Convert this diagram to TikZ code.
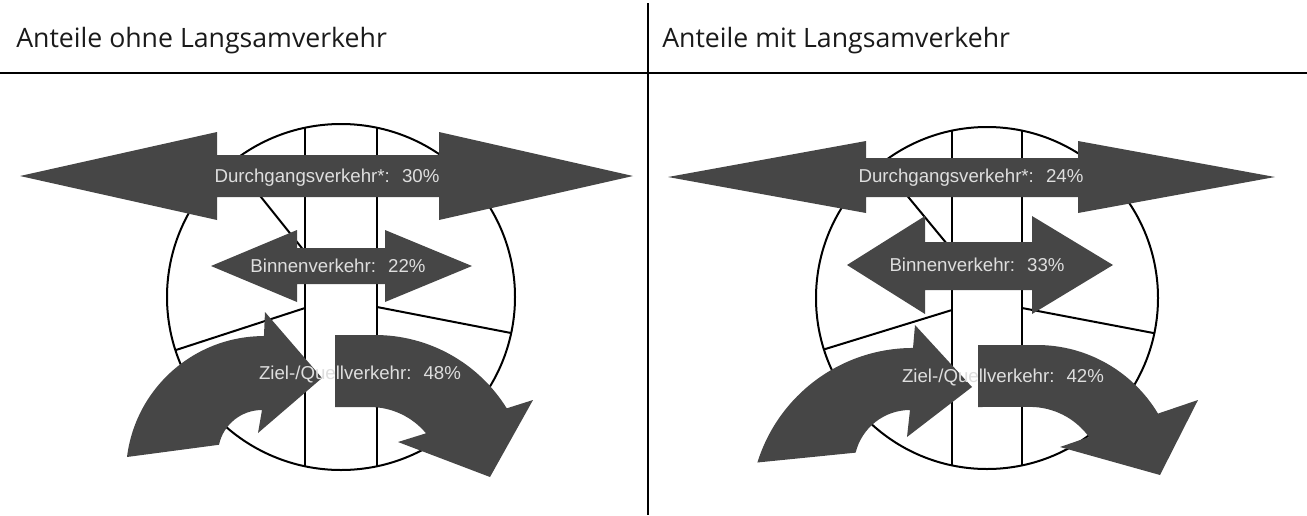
\documentclass[tikz,border=0pt]{standalone}
\usepackage{fontspec}
\setmainfont{Open Sans}
\newfontfamily\arialfont{Liberation Sans}
\definecolor{arrowgray}{RGB}{70,70,70}
\definecolor{labelgray}{RGB}{222,222,222}
\definecolor{headblack}{RGB}{26,26,26}
\tikzset{
  flow/.style={fill=arrowgray, draw=none},
  partline/.style={line width=1.5pt, black},
  lbl/.style={font=\arialfont\fontsize{14}{16}\selectfont, text=labelgray, inner sep=0pt},
  headtxt/.style={font=\fontsize{20}{24}\selectfont, text=headblack, inner sep=0pt, anchor=base west},
  rulerline/.style={line width=2pt, black}
}
\begin{document}
\begin{tikzpicture}[x=0.75pt,y=-0.75pt]
\useasboundingbox (0,0) rectangle (1307,515);
% frame
\coordinate (hl) at (0,73);
\coordinate (hr) at (1307,73);
\coordinate (vt) at (648,3);
\coordinate (vb) at (648,515);
\draw[rulerline] (hl) -- (hr);
\draw[rulerline] (vt) -- (vb);
\node[headtxt] (h1) at (16,47) {Anteile ohne Langsamverkehr};
\node[headtxt] (h2) at (662,47) {Anteile mit Langsamverkehr};

% ---------- left panel ----------
\draw[partline] (341,297) ellipse [x radius=174, y radius=173];
\draw[partline] (305,127.5) -- (305,466.5);
\draw[partline] (377,127.5) -- (377,466.5);
\draw[partline] (233,162) -- (305,252);
\draw[partline] (305,308) -- (176,350);
\draw[partline] (377,307) -- (511,333);
% Durchgang
\fill[flow] (20,176) -- (217,132) -- (217,155) -- (439,155) -- (439,132) -- (633,176)
  -- (439,220) -- (439,197) -- (217,197) -- (217,220) -- cycle;
% Binnen
\fill[flow] (211,266) -- (297,230) -- (297,248) -- (385,248) -- (385,230) -- (472,266)
  -- (385,302) -- (385,284) -- (297,284) -- (297,302) -- cycle;
% Ziel/Quell left curved
\fill[flow] (127,457) arc[start angle=-172.9,end angle=-90,radius=138] -- (265,312) -- (322,378)
  -- (258,433) -- (262,410) arc[start angle=-90,end angle=-167.9,radius=44] -- cycle;
% Ziel/Quell right curved
\fill[flow] (335,335) -- (375,335) arc[start angle=-90,end angle=-31.8,radius=155] -- (533,400)
  -- (490,477) -- (398,442) -- (426,433.3) arc[start angle=-39.8,end angle=-90,radius=73]
  -- (335,407) -- cycle;
\node[lbl] (d1) at (327,178) {Durchgangsverkehr*:~ 30\%};
\node[lbl] (b1) at (338,266) {Binnenverkehr:~ 22\%};
\node[lbl] (z1) at (360,374) {Ziel-/Quellverkehr:~ 48\%};

% ---------- right panel ----------
\draw[partline] (987,298) circle [radius=171];
\draw[partline] (952,130.6) -- (952,465.4);
\draw[partline] (1022,130.6) -- (1022,465.4);
\draw[partline] (881,164) -- (952,250);
\draw[partline] (952,310) -- (824,349.4);
\draw[partline] (1022,308) -- (1154.4,333.2);
% Durchgang
\fill[flow] (668,177) -- (866,141) -- (866,158) -- (1078,158) -- (1078,141) -- (1275,177)
  -- (1078,213) -- (1078,197) -- (866,197) -- (866,213) -- cycle;
% Binnen
\fill[flow] (847,265) -- (925,216) -- (925,242) -- (1032,242) -- (1032,216) -- (1113,265)
  -- (1032,314) -- (1032,290) -- (925,290) -- (925,314) -- cycle;
% Ziel/Quell left curved
\fill[flow] (757.4,462.5) arc[start angle=-162.7,end angle=-90,radius=163] -- (915,325) -- (972,387)
  -- (907,437) -- (910,410) arc[start angle=-90,end angle=-166.2,radius=56] -- cycle;
% Ziel/Quell right curved
\fill[flow] (978,345) -- (1037,345) arc[start angle=-90,end angle=-30.9,radius=141] -- (1198,400)
  -- (1160,475) -- (1060,447) -- (1089,437) arc[start angle=-36,end angle=-90,radius=73]
  -- (978,407) -- cycle;
\node[lbl] (d2) at (971,178) {Durchgangsverkehr*:~ 24\%};
\node[lbl] (b2) at (977,265) {Binnenverkehr:~ 33\%};
\node[lbl] (z2) at (1003,377) {Ziel-/Quellverkehr:~ 42\%};
\end{tikzpicture}
\end{document}
